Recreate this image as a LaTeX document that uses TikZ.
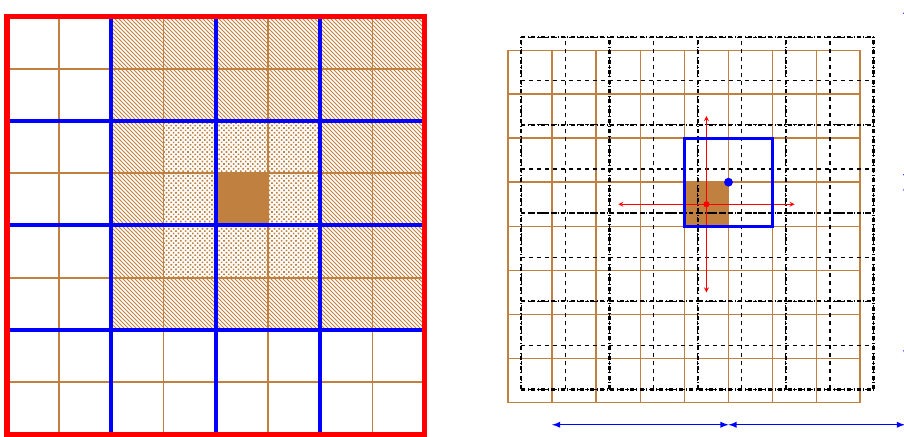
\documentclass[tikz,border=0pt]{standalone}
\usetikzlibrary{patterns}
\pgfdeclarepatternformonly{hatchlines}{\pgfqpoint{-1pt}{-1pt}}{\pgfqpoint{4pt}{4pt}}{\pgfqpoint{3pt}{3pt}}{
    \pgfsetlinewidth{0.55pt}
    \pgfpathmoveto{\pgfqpoint{0pt}{3pt}}
    \pgfpathlineto{\pgfqpoint{3.1pt}{-0.1pt}}
    \pgfusepath{stroke}}
\pgfdeclarepatternformonly{checkdots}{\pgfqpoint{-1pt}{-1pt}}{\pgfqpoint{5pt}{5pt}}{\pgfqpoint{3.6pt}{3.6pt}}{
    \pgfpathrectangle{\pgfqpoint{0pt}{0pt}}{\pgfqpoint{1.25pt}{1.25pt}}
    \pgfpathrectangle{\pgfqpoint{1.8pt}{1.8pt}}{\pgfqpoint{1.25pt}{1.25pt}}
    \pgfusepath{fill}}
\begin{document}
\begin{tikzpicture}[x=0.75pt, y=0.75pt]
    \useasboundingbox (0,0) rectangle (904,436);

    % left grid: coarse blocks over fine cells
    \begin{scope}[shift={(7,1.7)}, scale=52.2]
        \fill[pattern=hatchlines, pattern color=brown] (2,2) rectangle (8,8);
        \fill[white] (3,3) rectangle (6,6);
        \fill[pattern=checkdots, pattern color=brown] (3,3) rectangle (6,6);
        \fill[brown] (4,4) rectangle (5,5);
        \draw[brown, line width=1.3pt, step=1] (0,0) grid (8,8);
        \foreach \i in {2,4,6} {
            \draw[blue, line width=3pt] (\i,0) -- (\i,8);
            \draw[blue, line width=3pt] (0,\i) -- (8,\i);
        }
        \draw[red, line width=3.8pt] (0,0) rectangle (8,8);
    \end{scope}

    % right grid: shifted dashed grid
    \begin{scope}[shift={(508,33.3)}, scale=44.1]
        \fill[brown] (4,4) rectangle (5,5);
        \draw[brown, line width=1.1pt, step=1] (0,0) grid (8,8);
        \draw[dashed, line width=0.9pt, shift={(0.3,0.3)}, step=1] (0,0) grid (8,8);
        \draw[dash dot, line width=1.6pt, shift={(0.3,0.3)}] (0,0) grid[step=2] (8,8);

        \draw[red, <->, >=stealth, line width=0.7pt] (2.5,4.5) -- (6.5,4.5);
        \draw[red, <->, >=stealth, line width=0.7pt] (4.5,2.5) -- (4.5,6.5);
        \fill[red] (4.5,4.5) circle (0.07);
        \draw[blue, line width=2.2pt] (4,4) rectangle (6,6);
        \fill[blue] (5,5) circle (0.1);

        \draw[blue, <->, >=latex, line width=1.1pt] (1,-0.5) -- (5,-0.5);
        \draw[blue, <->, >=latex, line width=1.1pt] (5,-0.5) -- (9,-0.5);
        \draw[blue, <->, >=latex, line width=1.1pt] (9.03,1) -- (9.03,5);
        \draw[blue, <->, >=latex, line width=1.1pt] (9.03,5) -- (9.03,9);
    \end{scope}
\end{tikzpicture}
\end{document}
